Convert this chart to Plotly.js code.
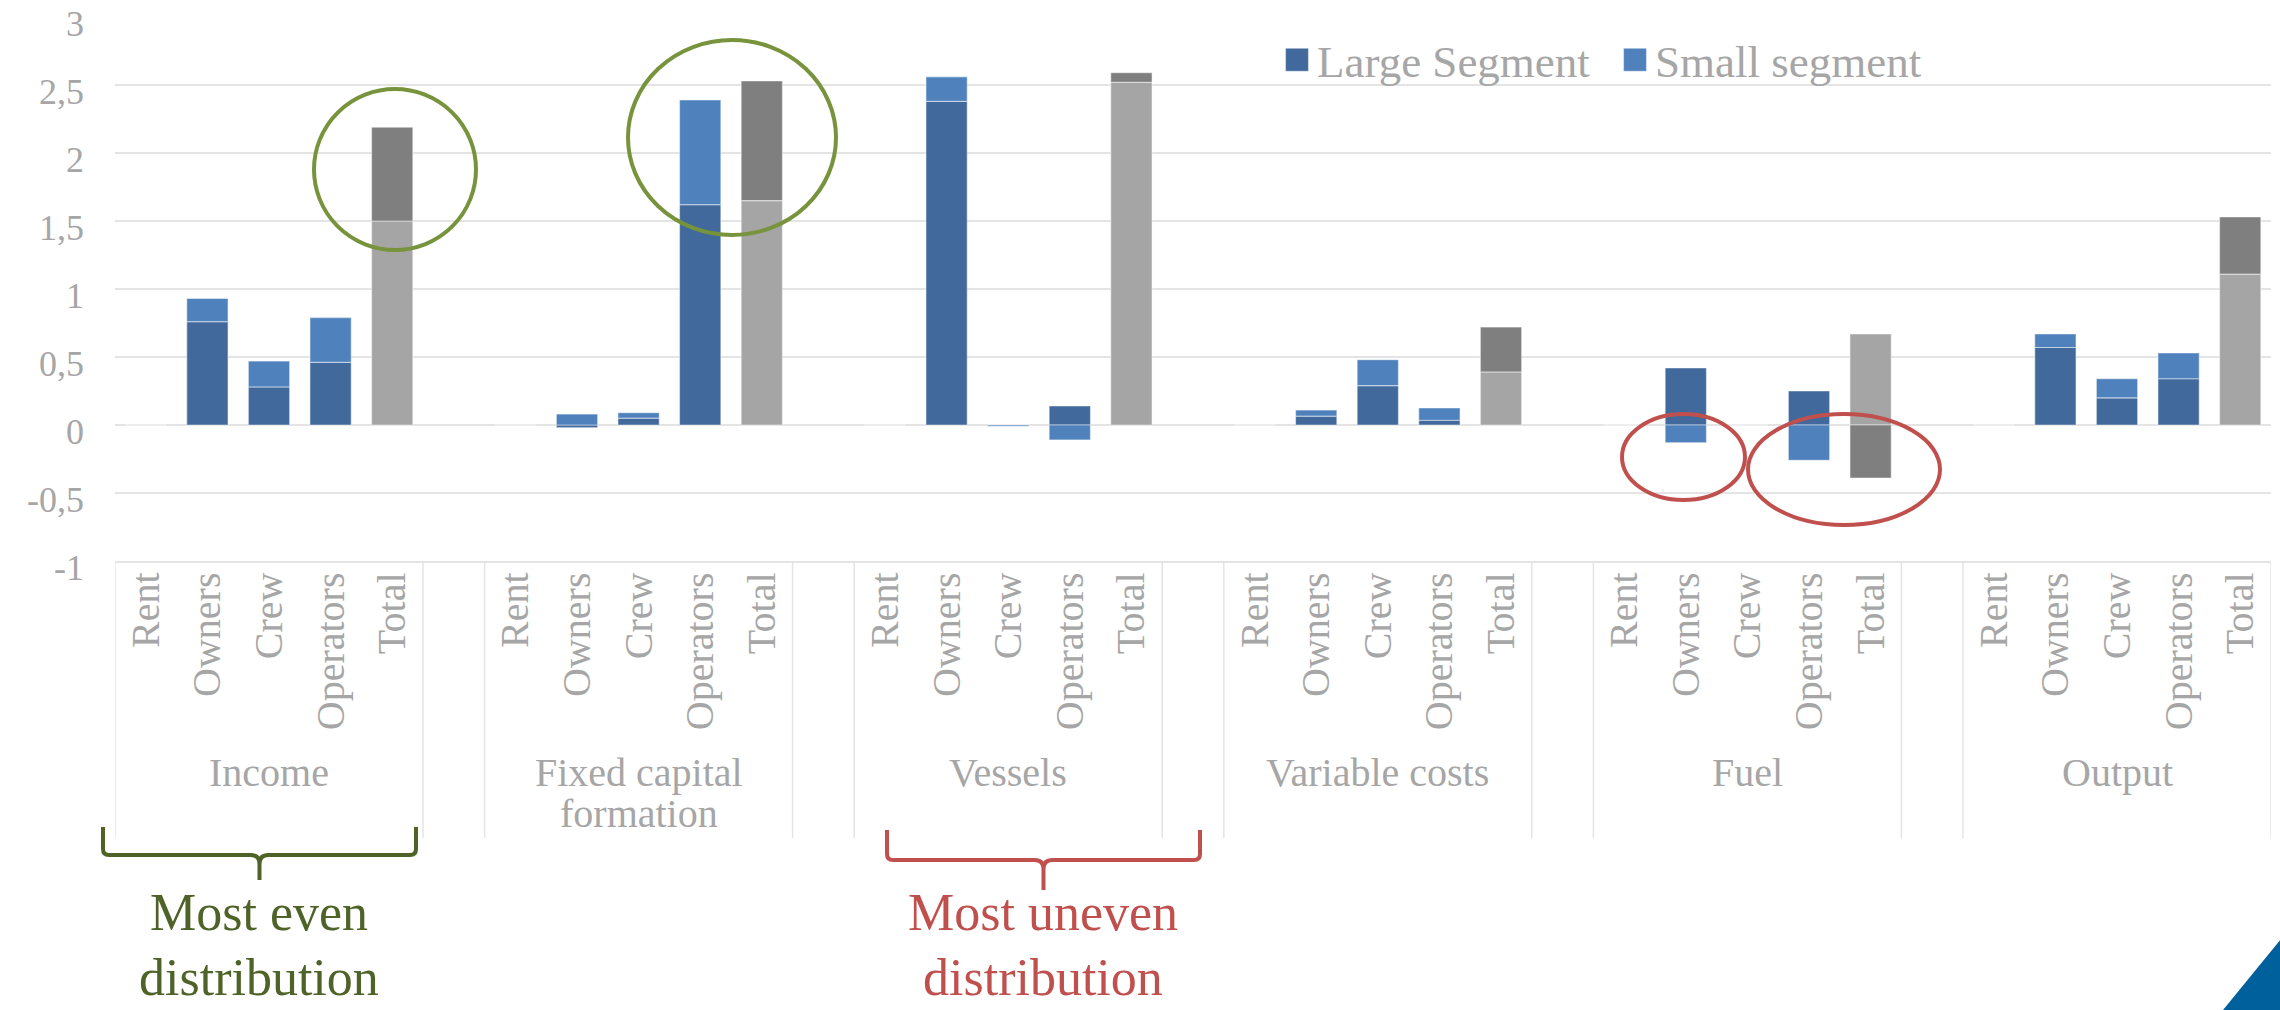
<!DOCTYPE html>
<html>
<head>
<meta charset="utf-8">
<script src="https://cdn.plot.ly/plotly-3.0.1.min.js"></script>
<style>
  html, body { margin: 0; padding: 0; background: #ffffff; }
  #chart { width: 2280px; height: 1010px; }
</style>
</head>
<body>
<div id="chart"></div>
<script>
// ---------------- data ----------------
const groups = ['Income', 'Fixed capital<br>formation', 'Vessels', 'Variable costs', 'Fuel', 'Output'];
const subCategories = ['Rent', 'Owners', 'Crew', 'Operators'];
const totalLabel = 'Total';

// Large segment, per group: Rent, Owners, Crew, Operators
const largeSegment = [
  [0, 0.76, 0.28, 0.46],
  [0, -0.02, 0.05, 1.62],
  [0, 2.38, 0.00, 0.14],
  [0, 0.065, 0.29, 0.035],
  [0, 0.42, 0.00, 0.25],
  [0, 0.57, 0.20, 0.34]
];
// Small segment, per group: Rent, Owners, Crew, Operators
const smallSegment = [
  [0, 0.17, 0.19, 0.33],
  [0, 0.08, 0.04, 0.77],
  [0, 0.18, -0.01, -0.11],
  [0, 0.045, 0.19, 0.09],
  [0, -0.13, 0.00, -0.26],
  [0, 0.10, 0.14, 0.19]
];
// Total bars (grey): large-segment part and small-segment part
const totalLarge = [1.50, 1.65, 2.52, 0.39, 0.67, 1.11];
const totalSmall = [0.69, 0.88, 0.07, 0.33, -0.39, 0.42];

const yTickVals = [-1, -0.5, 0, 0.5, 1, 1.5, 2, 2.5, 3];
const yTickText = ['-1', '-0,5', '0', '0,5', '1', '1,5', '2', '2,5', '3'];

// ---------------- layout helpers ----------------
const W = 2280, H = 1010;
const M = { l: 115, r: 9, t: 17, b: 449 };
const PW = W - M.l - M.r, PH = H - M.t - M.b;
const px2x = px => (px - M.l) / PW;
const py2y = py => (H - M.b - py) / PH;

const slotsPerGroup = subCategories.length + 2; // 4 subs + total + blank gap
const catLabels = subCategories.concat([totalLabel]);

const xBlue = [], yLarge = [], ySmall = [];
const tickVals = [], tickText = [];
const xTotal = [];
groups.forEach((g, gi) => {
  catLabels.forEach((c, ci) => {
    tickVals.push(gi * slotsPerGroup + ci);
    tickText.push(c);
  });
  subCategories.forEach((c, ci) => {
    xBlue.push(gi * slotsPerGroup + ci);
    yLarge.push(largeSegment[gi][ci]);
    ySmall.push(smallSegment[gi][ci]);
  });
  xTotal.push(gi * slotsPerGroup + subCategories.length);
});
const nSlots = groups.length * slotsPerGroup - 1;

const barW = 0.67;
const edge = { width: 1.2, color: 'rgba(255,255,255,0.45)' };

const traces = [
  { type: 'bar', name: 'Large Segment', x: xBlue, y: yLarge, width: barW,
    marker: { color: '#41699b', line: edge } },
  { type: 'bar', name: 'Small segment', x: xBlue, y: ySmall, width: barW,
    marker: { color: '#4f81bd', line: edge } },
  { type: 'bar', name: 'Total – Large Segment', x: xTotal, y: totalLarge, width: barW,
    marker: { color: '#a5a5a5', line: edge }, showlegend: false },
  { type: 'bar', name: 'Total – Small segment', x: xTotal, y: totalSmall, width: barW,
    marker: { color: '#7f7f7f', line: edge }, showlegend: false }
];

const grey = '#a6a6a6';
const gridC = '#e4e4e4';
const shapes = [];
// group separators below the axis
groups.forEach((g, gi) => {
  [gi * slotsPerGroup - 0.5, gi * slotsPerGroup + subCategories.length + 0.5].forEach(xv => {
    shapes.push({ type: 'line', xref: 'x', yref: 'paper', x0: xv, x1: xv,
      y0: 0, y1: py2y(838), line: { color: gridC, width: 1.5 } });
  });
});

function ellipse(x0, x1, y0, y1, color) {
  return { type: 'circle', xref: 'paper', yref: 'paper',
    x0: px2x(x0), x1: px2x(x1), y0: py2y(y1), y1: py2y(y0),
    line: { color: color, width: 4 } };
}
const green = '#77933c', red = '#c0504d', olive = '#4f6228';
shapes.push(ellipse(314, 476, 89, 250, green));
shapes.push(ellipse(628, 836, 40, 235, green));
shapes.push(ellipse(1622, 1745, 414, 500, red));
shapes.push(ellipse(1748, 1940, 414, 525, red));

function bracePath(xl, xr, yTop, yLine, yTip) {
  const xm = (xl + xr) / 2, r = 6, c = 9;
  const P = (x, y) => px2x(x).toFixed(5) + ',' + py2y(y).toFixed(5);
  return 'M' + P(xl, yTop) + ' L' + P(xl, yLine - r) + ' Q' + P(xl, yLine) + ' ' + P(xl + r, yLine) +
    ' L' + P(xm - c, yLine) + ' Q' + P(xm, yLine) + ' ' + P(xm, yLine + c) + ' L' + P(xm, yTip) +
    ' M' + P(xm, yLine + c) + ' Q' + P(xm, yLine) + ' ' + P(xm + c, yLine) +
    ' L' + P(xr - r, yLine) + ' Q' + P(xr, yLine) + ' ' + P(xr, yLine - r) + ' L' + P(xr, yTop);
}
shapes.push({ type: 'path', xref: 'paper', yref: 'paper', path: bracePath(103, 416, 827, 855, 880),
  line: { color: olive, width: 4 } });
shapes.push({ type: 'path', xref: 'paper', yref: 'paper', path: bracePath(887, 1200, 830, 860, 890),
  line: { color: red, width: 4 } });
// corner triangle
(function () {
  const P = (x, y) => px2x(x).toFixed(5) + ',' + py2y(y).toFixed(5);
  shapes.push({ type: 'path', xref: 'paper', yref: 'paper',
    path: 'M' + P(2223, 1010) + ' L' + P(2281, 939) + ' L' + P(2281, 1011) + ' L' + P(2222, 1011) + ' Z',
    fillcolor: '#00609c', line: { width: 0 } });
})();

const annotations = [];
groups.forEach((g, gi) => {
  g.split('<br>').forEach((line, li) => {
    annotations.push({ xref: 'x', yref: 'paper', x: gi * slotsPerGroup + 2, y: py2y(772 + li * 41),
      yanchor: 'middle', xanchor: 'center', text: line, showarrow: false,
      font: { family: 'Liberation Serif', size: 40, color: grey } });
  });
});
function note(text, xc, yc, color) {
  annotations.push({ xref: 'paper', yref: 'paper', x: px2x(xc), y: py2y(yc), xanchor: 'center',
    yanchor: 'middle', text: text, showarrow: false,
    font: { family: 'Liberation Serif', size: 52, color: color } });
}
note('Most even', 259, 912, olive);
note('distribution', 259, 977, olive);
note('Most uneven', 1043, 912, red);
note('distribution', 1043, 977, red);

const layout = {
  width: W, height: H,
  margin: M,
  paper_bgcolor: '#ffffff', plot_bgcolor: '#ffffff',
  font: { family: 'Liberation Serif', color: grey },
  barmode: 'relative',
  showlegend: true,
  legend: { orientation: 'h', x: px2x(1277), y: py2y(60), xanchor: 'left', yanchor: 'middle',
    bgcolor: 'rgba(0,0,0,0)', font: { family: 'Liberation Serif', size: 45, color: grey },
    traceorder: 'normal', entrywidth: 293, entrywidthmode: 'pixels' },
  xaxis: {
    range: [-0.5, nSlots - 0.5], tickmode: 'array', tickvals: tickVals, ticktext: tickText,
    tickangle: -90, ticks: '', showgrid: false, zeroline: false,
    showline: true, linecolor: gridC, linewidth: 1.5, ticklabelstandoff: -6,
    tickfont: { family: 'Liberation Serif', size: 40, color: grey }
  },
  yaxis: {
    range: [-1, 3], tickmode: 'array', tickvals: yTickVals, ticktext: yTickText,
    ticks: '', showgrid: true, gridcolor: gridC, gridwidth: 1.5, zeroline: false,
    ticklabelstandoff: 30, ticklabeloverflow: 'allow', ticklabelshift: 6,
    tickfont: { family: 'Liberation Serif', size: 36, color: grey }
  },
  shapes: shapes,
  annotations: annotations
};

Plotly.newPlot('chart', traces, layout, { displayModeBar: false, staticPlot: true }).then(() => {
  document.querySelectorAll('#chart .legendpoints path').forEach(p => {
    p.setAttribute('d', 'M11.5,11.5H-11.5V-11.5H11.5Z');
  });
});
</script>
</body>
</html>
